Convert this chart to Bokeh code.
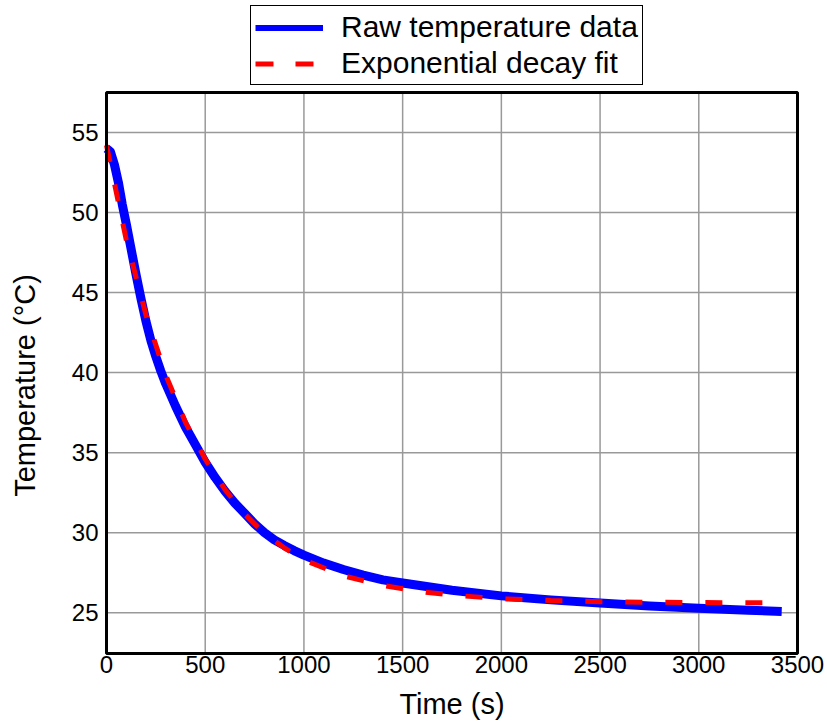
import math
from bokeh.plotting import figure
from bokeh.models import Legend, LegendItem, FixedTicker, ColumnDataSource, Label
from bokeh.embed import file_html
from bokeh.resources import INLINE

# Raw temperature data
raw_time = [0, 20, 40, 60, 80, 100, 125, 150, 175, 200, 225, 250, 275, 300, 350, 400,
            450, 500, 550, 600, 650, 700, 750, 800, 850, 900, 950, 1000, 1100, 1200,
            1300, 1400, 1500, 1750, 2000, 2250, 2500, 2750, 3000, 3250, 3420]
raw_temp = [54.0, 53.8, 53.0, 51.9, 50.5, 49.3, 47.7, 46.1, 44.6, 43.2, 42.0, 41.0,
            40.1, 39.3, 37.9, 36.6, 35.5, 34.4, 33.45, 32.6, 31.85, 31.2, 30.55, 30.0,
            29.55, 29.2, 28.88, 28.6, 28.1, 27.7, 27.35, 27.05, 26.85, 26.4, 26.05,
            25.8, 25.6, 25.42, 25.28, 25.15, 25.08]

# Exponential decay fit
fit_time = [0, 100, 200, 300, 400, 500, 600, 700, 800, 900, 1000, 1200, 1400,
            1600, 1800, 2000, 2250, 2500, 2750, 3000, 3250, 3420]
fit_temp = [54.2, 48.3, 43.6, 39.85, 36.9, 34.6, 32.7, 31.15, 29.95, 29.05, 28.3,
            27.3, 26.7, 26.3, 26.05, 25.87, 25.76, 25.69, 25.65, 25.63, 25.62, 25.62]

x_ticks = [0, 500, 1000, 1500, 2000, 2500, 3000, 3500]
y_ticks = [25, 30, 35, 40, 45, 50, 55]

# axes box limits
X_MIN, X_MAX = 0, 3500
Y_MIN, Y_MAX = 22.45, 57.5
# full view (the frame covers the whole page; the box sits inside it)
VIEW_X = (-536.9, 3651.95)
VIEW_Y = (18.2, 63.25)

FONT = "Liberation Sans"

p = figure(width=827, height=721, output_backend="svg", toolbar_location=None,
           x_range=VIEW_X, y_range=VIEW_Y, min_border=0)

p.background_fill_color = "white"
p.border_fill_color = "white"
p.outline_line_color = None
p.xgrid.visible = False
p.ygrid.visible = False

# grid lines (only inside the axes box)
p.segment(x0=x_ticks, y0=[Y_MIN] * len(x_ticks), x1=x_ticks, y1=[Y_MAX] * len(x_ticks),
          line_color="#999999", line_width=1.5)
p.segment(x0=[X_MIN] * len(y_ticks), y0=y_ticks, x1=[X_MAX] * len(y_ticks), y1=y_ticks,
          line_color="#999999", line_width=1.5)

raw_src = ColumnDataSource(dict(t=raw_time, T=raw_temp))
fit_src = ColumnDataSource(dict(t=fit_time, T=fit_temp))

p.line("t", "T", source=raw_src, line_color="#0000ff", line_width=9, line_join="round")
p.line("t", "T", source=fit_src, line_color="#ff0000", line_width=5,
       line_dash="17 23")

# box frame
p.quad(left=[X_MIN], right=[X_MAX], bottom=[Y_MIN], top=[Y_MAX],
       fill_alpha=0, line_color="black", line_width=3)

# legend-only renderers (single point: draws nothing in the plot)
leg_raw = p.line(x=raw_time[:1], y=raw_temp[:1], line_color="#0000ff", line_width=6)
leg_fit = p.line(x=fit_time[:1], y=fit_temp[:1], line_color="#ff0000", line_width=5,
                 line_dash="18 22")

for ax in (p.xaxis[0], p.yaxis[0]):
    ax.axis_line_color = None
    ax.major_tick_line_color = None
    ax.minor_tick_line_color = None
    ax.major_label_text_font = FONT
    ax.major_label_text_font_size = "24px"
    ax.major_label_text_color = "black"
    ax.axis_label = None

p.xaxis[0].ticker = FixedTicker(ticks=x_ticks)
p.yaxis[0].ticker = FixedTicker(ticks=y_ticks)
p.xaxis[0].fixed_location = Y_MIN
p.yaxis[0].fixed_location = X_MIN
p.xaxis[0].major_label_standoff = -3
p.yaxis[0].major_label_standoff = 2

# axis titles
p.add_layout(Label(x=451.5, y=18, x_units="screen", y_units="screen",
                   text="Time (s)", text_align="center", text_baseline="alphabetic",
                   text_font=FONT, text_font_size="29px", text_color="black"))
p.add_layout(Label(x=24, y=336, x_units="screen", y_units="screen",
                   text="Temperature (°C)", angle=math.pi / 2,
                   text_align="center", text_baseline="alphabetic",
                   text_font=FONT, text_font_size="29px", text_color="black"))

legend = Legend(items=[LegendItem(label="Raw temperature data", renderers=[leg_raw]),
                       LegendItem(label="Exponential decay fit", renderers=[leg_fit])],
                location=(250, 636), orientation="vertical")
legend.label_text_font = FONT
legend.label_text_font_size = "30px"
legend.label_text_color = "black"
legend.border_line_color = "black"
legend.border_line_width = 1.5
legend.border_line_alpha = 1.0
legend.background_fill_color = "white"
legend.background_fill_alpha = 1.0
legend.padding = 4
legend.spacing = 2
legend.label_height = 25
legend.glyph_height = 25
legend.glyph_width = 68
legend.label_standoff = 18
legend.margin = 0
p.add_layout(legend, "center")

open("out.html", "w").write(file_html(p, INLINE))
